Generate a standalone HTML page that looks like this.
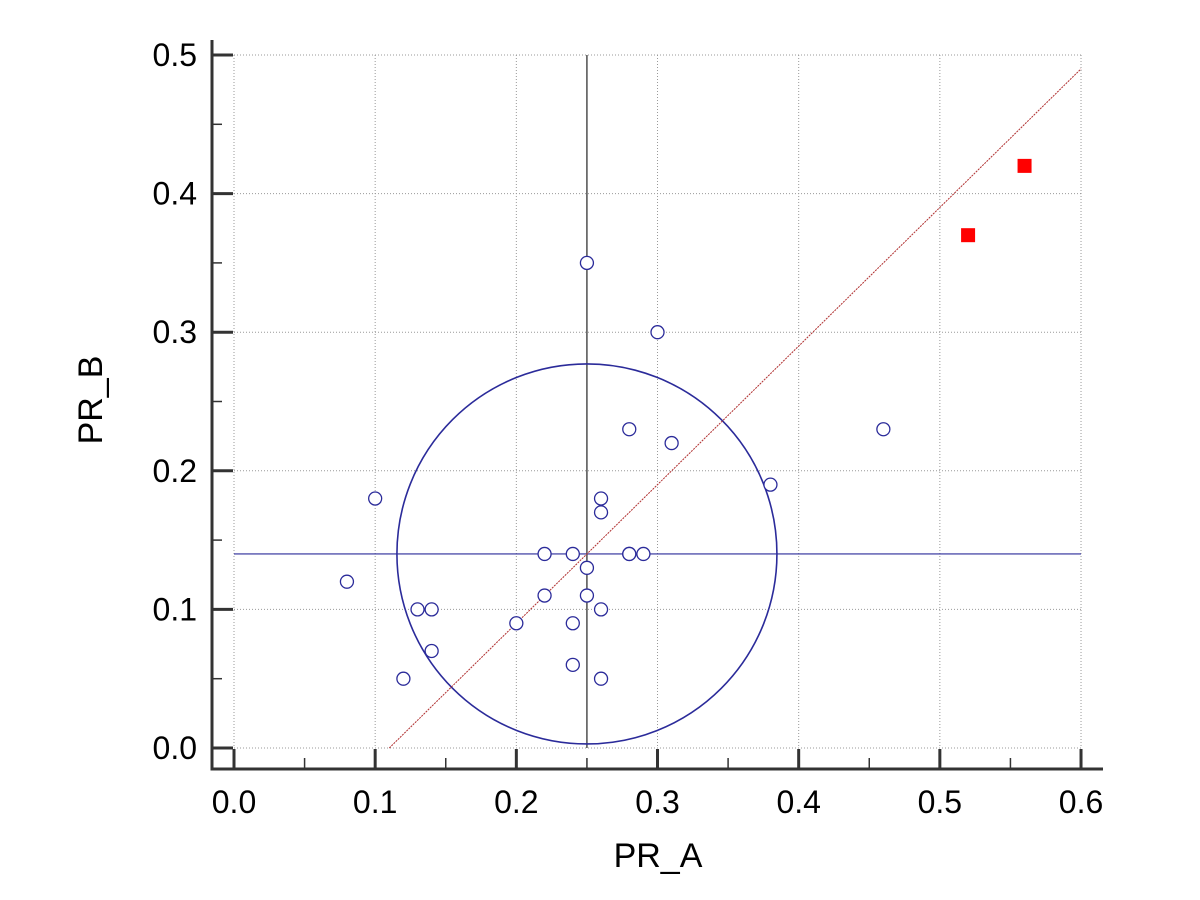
<!DOCTYPE html>
<html><head><meta charset="utf-8"><style>body{margin:0;background:#fff}svg{display:block;font-family:"Liberation Sans",Arial,sans-serif}</style></head>
<body>
<svg id="c" width="1200" height="900"></svg>
<script>
const ptsX=[0.25,0.30,0.28,0.31,0.46,0.38,0.10,0.26,0.26,0.22,0.24,0.28,0.28,0.29,0.25,0.08,0.22,0.25,0.13,0.14,0.26,0.20,0.24,0.14,0.24,0.12,0.26];
const ptsY=[0.35,0.30,0.23,0.22,0.23,0.19,0.18,0.18,0.17,0.14,0.14,0.14,0.14,0.14,0.13,0.12,0.11,0.11,0.10,0.10,0.10,0.09,0.09,0.07,0.06,0.05,0.05];
const outX=[0.56,0.52];
const outY=[0.42,0.37];
const xTicks=["0.0","0.1","0.2","0.3","0.4","0.5","0.6"];
const yTicks=["0.0","0.1","0.2","0.3","0.4","0.5"];
const centerX=0.25, centerY=0.14;
const lineX=[0.11,0.6], lineY=[0.0,0.49];
const NS="http://www.w3.org/2000/svg";
const svg=document.getElementById('c');
const sx=v=>234+v*1411.7, sy=v=>748-v*1386;
function el(t,a,p){const e=document.createElementNS(NS,t);for(const k in a)e.setAttribute(k,a[k]);(p||svg).appendChild(e);return e;}
xTicks.forEach(t=>{const v=+t;const g=el('line',{x1:sx(v),x2:sx(v),y1:sy(0.5),y2:sy(0),stroke:'#999','stroke-dasharray':'1,2'});

});
yTicks.forEach(t=>{const v=+t;const g=el('line',{x1:sx(0),x2:sx(0.6),y1:sy(v),y2:sy(v),stroke:'#999','stroke-dasharray':'1,2'});

});
const ax=el('path',{d:'M212 40V769H1103',fill:'none',stroke:'#333','stroke-width':3});


xTicks.forEach((t,i)=>{const v=+t;const x=sx(v);
const tk=el('line',{x1:x,x2:x,y1:769,y2:749,stroke:'#333','stroke-width':3});


if(i<xTicks.length-1){const m=el('line',{x1:sx(v+0.05),x2:sx(v+0.05),y1:769,y2:758,stroke:'#333','stroke-width':1.5});

}
const tx=el('text',{x:x,y:813,'text-anchor':'middle','font-size':32,fill:'#000'});tx.textContent=t;

});
yTicks.forEach((t,i)=>{const v=+t;const y=sy(v);
const tk=el('line',{x1:212,x2:233,y1:y,y2:y,stroke:'#333','stroke-width':3});


if(i<yTicks.length-1){const m=el('line',{x1:212,x2:222,y1:sy(v+0.05),y2:sy(v+0.05),stroke:'#333','stroke-width':1.5});

}
const tx=el('text',{x:197,y:y+11,'text-anchor':'end','font-size':32,fill:'#000'});tx.textContent=t;

});
const xt=el('text',{x:658,y:867,'text-anchor':'middle','font-size':34});xt.textContent='PR_A';


const yt=el('text',{x:102,y:400,'text-anchor':'middle','font-size':34,transform:'rotate(-90 102 400)'});yt.textContent='PR_B';


const vl=el('line',{x1:sx(centerX),x2:sx(centerX),y1:sy(0.5),y2:sy(0),stroke:'#222','stroke-width':1.2});


const hl=el('line',{x1:sx(0),x2:sx(0.6),y1:sy(centerY),y2:sy(centerY),stroke:'#2b2b9a','stroke-width':1.2});


const ci=el('circle',{cx:sx(centerX),cy:sy(centerY),r:190,fill:'none',stroke:'#2b2b9a','stroke-width':1.6});


const rl=el('line',{x1:sx(lineX[0]),y1:sy(lineY[0]),x2:sx(lineX[1]),y2:sy(lineY[1]),stroke:'#b03030','stroke-width':1,'stroke-dasharray':'2,1'});


ptsX.forEach((x,i)=>{const p=el('circle',{cx:sx(x),cy:sy(ptsY[i]),r:6.5,fill:'#fff',stroke:'#2b2b9a','stroke-width':1.3});

});
outX.forEach((x,i)=>{const p=el('rect',{x:sx(x)-7,y:sy(outY[i])-7,width:14,height:14,fill:'#f00'});

});
</script>
</body></html>
